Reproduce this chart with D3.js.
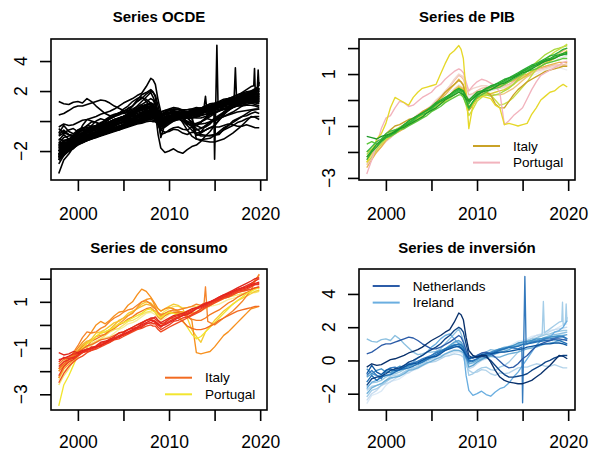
<!DOCTYPE html>
<html>
<head>
<meta charset="utf-8">
<script src="https://cdn.jsdelivr.net/npm/d3@7"></script>
<style>
  body { margin: 0; background: #fff; }
  svg { display: block; }
  text { font-family: "Liberation Sans", Arial, Helvetica, sans-serif; fill: #000; }
</style>
</head>
<body>
<svg id="chart" width="592" height="453"></svg>
<script>
// ---- time axis shared by every series ----
const YEARS = [1997.9, 1999, 2000, 2001, 2002, 2003, 2004, 2005, 2006, 2007, 2008, 2008.5,
               2009.1, 2010, 2011, 2012, 2013, 2014, 2015, 2016, 2017, 2018, 2019, 2019.9];
// in-between readings (one between each pair of YEARS)
const MID_YEARS = [1998.45, 1999.5, 2000.5, 2001.5, 2002.5, 2003.5, 2004.5, 2005.5, 2006.5, 2007.5,
                   2008.25, 2008.8, 2009.55, 2010.5, 2011.5, 2012.5, 2013.5, 2014.5, 2015.5,
                   2016.5, 2017.5, 2018.5, 2019.45];
const X_TICKS = [2000, 2005, 2010, 2015, 2020];
const X_LABELS = [2000, 2010, 2020];

// ---- GDP (PIB) standardized series ----
const PIB_NAMES = ["pib_w1","pib_w2","pib_p1","pib_p2","pib_t1","pib_t2","pib_y2","pib_l1","pib_l2",
                   "Italy","Portugal","pib_y1","pib_g4","pib_g3","pib_g2","pib_g5","pib_g1"];
const PIB_COLORS = ["#EEEEEE","#E4E4E4","#EFBFA6","#F2D4CC","#E8B34C","#EEC27C","#DCCB30","#A8D83E","#C8DE44",
                    "#C9A227","#F2B3BD","#E6D82A","#5CC63C","#3EBB46","#2AAE34","#24A42D","#1E9A27"];
const PIB_VALUES = [
  [-2.0,-1.75,-1.45,-1.25,-1.0,-0.75,-0.5,-0.25,0.05,0.3,0.6,0.5,0.1,0.35,0.45,0.45,0.45,0.6,0.8,0.95,1.1,1.2,1.25,1.15],
  [-2.45,-1.95,-1.55,-1.3,-1.05,-0.85,-0.6,-0.35,-0.1,0.15,0.45,0.35,-0.05,0.2,0.35,0.4,0.5,0.7,0.9,1.1,1.3,1.45,1.6,1.7],
  [-2.5,-2.0,-1.6,-1.3,-1.05,-0.8,-0.55,-0.25,0.1,0.5,0.95,0.8,0.2,0.35,0.5,0.5,0.55,0.7,0.9,1.05,1.2,1.3,1.35,1.4],
  [-2.2,-1.9,-1.45,-1.2,-0.95,-0.7,-0.45,-0.2,0.15,0.55,1.0,0.9,0.35,0.5,0.55,0.45,0.5,0.65,0.85,1.0,1.15,1.25,1.3,1.35],
  [-2.6,-2.0,-1.55,-1.3,-1.1,-0.85,-0.6,-0.3,0.05,0.4,0.8,0.6,-0.1,0.3,0.4,0.5,0.6,0.75,0.95,1.1,1.25,1.35,1.45,1.45],
  [-2.3,-1.9,-1.5,-1.25,-1.05,-0.85,-0.65,-0.4,-0.1,0.2,0.55,0.45,0.0,0.2,0.3,0.2,0.25,0.45,0.75,1.0,1.3,1.55,1.8,2.0],
  [-2.0,-1.7,-1.5,-1.25,-1.05,-0.8,-0.6,-0.35,-0.1,0.2,0.5,0.4,-0.25,0.05,0.2,0.3,0.4,0.6,0.85,1.1,1.3,1.5,1.7,1.9],
  [-2.1,-1.75,-1.4,-1.15,-0.95,-0.8,-0.55,-0.3,-0.05,0.2,0.4,0.3,-0.35,0.1,0.2,0.2,0.35,0.6,0.95,1.3,1.6,1.85,2.0,2.1],
  [-2.4,-1.9,-1.5,-1.2,-1.0,-0.75,-0.6,-0.35,-0.15,0.05,0.3,0.15,-0.6,-0.05,0.25,0.0,-0.15,0.1,0.5,0.95,1.4,1.7,1.95,2.15],
  [-2.2,-1.8,-1.3,-1.0,-0.85,-0.7,-0.45,-0.25,0.1,0.45,0.75,0.55,-0.4,0.05,0.3,-0.15,-0.3,0.2,0.55,0.8,1.0,1.15,1.25,1.3],
  [-2.85,-1.7,-0.7,-0.3,-0.1,-0.2,0.1,0.3,0.6,0.95,1.2,1.05,0.35,0.7,0.75,0.55,-0.95,-0.6,-0.3,0.4,0.95,1.15,1.35,1.5],
  [-2.4,-1.5,-0.9,0.1,-0.1,0.1,0.45,0.55,1.0,1.75,2.1,1.6,-1.1,0.1,0.1,-0.2,-0.95,-0.95,-0.95,-0.55,0.0,0.3,0.5,0.5],
  [-1.7,-1.7,-1.45,-1.3,-1.1,-0.9,-0.7,-0.45,-0.25,0.0,0.2,0.1,-0.35,0.1,0.3,0.45,0.6,0.8,1.0,1.15,1.3,1.45,1.55,1.6],
  [-2.0,-1.6,-1.3,-1.15,-0.95,-0.8,-0.55,-0.35,-0.05,0.15,0.35,0.2,-0.15,0.25,0.4,0.55,0.7,0.9,1.1,1.25,1.45,1.55,1.7,1.75],
  [-2.3,-1.8,-1.45,-1.25,-1.0,-0.75,-0.5,-0.25,0.0,0.2,0.4,0.3,-0.3,0.15,0.45,0.6,0.8,0.95,1.15,1.35,1.5,1.7,1.85,2.0],
  [-2.2,-1.7,-1.4,-1.25,-0.95,-0.7,-0.5,-0.3,-0.05,0.2,0.45,0.35,0.0,0.3,0.45,0.6,0.75,0.9,1.1,1.3,1.45,1.6,1.75,1.85],
  [-1.4,-1.5,-1.35,-1.2,-1.05,-0.85,-0.65,-0.4,-0.15,0.1,0.3,0.2,-0.05,0.2,0.35,0.5,0.65,0.85,1.05,1.2,1.4,1.55,1.7,1.8]
];
const PIB_MID = [
  [-1.85,-1.6,-1.3,-1.15,-0.85,-0.65,-0.35,-0.1,0.2,0.45,0.55,0.3,0.25,0.45,0.4,0.5,0.5,0.7,0.9,1.0,1.15,1.25,1.2],
  [-2.2,-1.7,-1.45,-1.15,-0.95,-0.7,-0.5,-0.2,0.0,0.3,0.4,0.15,0.05,0.3,0.35,0.45,0.6,0.8,1.0,1.2,1.4,1.5,1.65],
  [-2.2,-1.8,-1.45,-1.2,-0.9,-0.7,-0.4,-0.05,0.3,0.75,0.9,0.5,0.25,0.45,0.5,0.5,0.6,0.8,0.95,1.15,1.25,1.35,1.35],
  [-2.05,-1.65,-1.35,-1.05,-0.85,-0.55,-0.35,0.0,0.35,0.8,0.95,0.6,0.45,0.55,0.5,0.45,0.55,0.75,0.9,1.1,1.2,1.3,1.3],
  [-2.3,-1.8,-1.4,-1.2,-0.95,-0.75,-0.45,-0.1,0.2,0.6,0.7,0.2,0.15,0.35,0.45,0.55,0.7,0.85,1.0,1.2,1.3,1.4,1.45],
  [-2.1,-1.7,-1.4,-1.15,-0.95,-0.75,-0.5,-0.25,0.05,0.4,0.5,0.2,0.1,0.25,0.25,0.2,0.35,0.6,0.9,1.15,1.45,1.7,1.9],
  [-1.9,-1.55,-1.4,-1.15,-0.9,-0.7,-0.45,-0.25,0.05,0.35,0.45,0.1,-0.1,0.15,0.25,0.35,0.5,0.75,0.95,1.2,1.4,1.6,1.8],
  [-1.9,-1.6,-1.25,-1.05,-0.9,-0.65,-0.45,-0.15,0.05,0.3,0.35,0.0,-0.1,0.15,0.15,0.25,0.45,0.8,1.1,1.45,1.75,1.95,2.05],
  [-2.2,-1.7,-1.35,-1.1,-0.85,-0.7,-0.45,-0.25,-0.05,0.2,0.25,-0.2,-0.35,0.1,0.2,-0.2,-0.05,0.3,0.7,1.2,1.55,1.85,2.05],
  [-2.0,-1.55,-1.15,-0.95,-0.75,-0.6,-0.35,-0.1,0.3,0.6,0.7,0.1,-0.2,0.2,0.2,-0.3,-0.05,0.4,0.7,0.9,1.1,1.2,1.3],
  [-2.3,-1.1,-0.6,-0.05,-0.25,-0.05,0.2,0.5,0.8,1.1,1.15,0.7,0.55,0.8,0.65,0.3,-0.8,-0.45,0.05,0.7,1.05,1.25,1.45],
  [-2.0,-1.3,-0.3,0.0,-0.2,0.3,0.5,0.6,1.4,1.9,1.95,0.3,-0.2,0.15,0.05,-0.3,-0.9,-1.0,-0.9,-0.3,0.15,0.35,0.6],
  [-1.6,-1.6,-1.4,-1.15,-1.0,-0.8,-0.6,-0.35,-0.1,0.1,0.2,-0.15,-0.1,0.2,0.4,0.5,0.7,0.9,1.1,1.2,1.4,1.5,1.6],
  [-1.8,-1.5,-1.2,-1.1,-0.85,-0.65,-0.5,-0.2,0.05,0.25,0.3,0.0,0.1,0.3,0.5,0.6,0.8,1.0,1.15,1.35,1.5,1.65,1.75],
  [-2.0,-1.6,-1.35,-1.1,-0.9,-0.6,-0.4,-0.1,0.1,0.3,0.35,0.0,-0.05,0.3,0.5,0.7,0.85,1.05,1.25,1.4,1.6,1.75,1.95],
  [-1.95,-1.55,-1.3,-1.1,-0.8,-0.6,-0.4,-0.15,0.05,0.35,0.4,0.15,0.15,0.35,0.55,0.65,0.85,1.0,1.2,1.35,1.55,1.7,1.8],
  [-1.45,-1.4,-1.3,-1.1,-0.95,-0.75,-0.5,-0.3,0.0,0.2,0.25,0.05,0.05,0.3,0.4,0.6,0.75,0.95,1.1,1.3,1.5,1.6,1.75]
];

// ---- consumption series ----
const CON_NAMES = ["con_y4","con_y3","con_y2","con_y1","con_o4","con_o1","con_o2","con_o3",
                   "Portugal","Italy","con_r5","con_r3","con_r6","con_r2","con_r4","con_r1"];
const CON_COLORS = ["#F8EE9C","#F6E466","#F5CC36","#F6B72E","#F89A2A","#F7901E","#F5842A","#F47A22",
                    "#F2E52F","#F26B21","#F04A22","#EC3D20","#E83020","#EA3320","#E0281C","#E5241D"];
const CON_VALUES = [
  [-2.4,-1.8,-1.3,-0.95,-0.75,-0.55,-0.35,-0.1,0.1,0.35,0.55,0.45,0.2,0.45,0.6,0.6,0.6,0.7,0.85,1.0,1.15,1.3,1.4,1.5],
  [-2.6,-1.9,-1.35,-1.0,-0.7,-0.45,-0.2,0.0,0.2,0.45,0.6,0.6,0.45,0.7,0.8,0.75,0.8,0.9,1.0,1.15,1.25,1.35,1.4,1.45],
  [-2.0,-1.5,-1.15,-0.75,-0.35,-0.2,0.1,0.3,0.6,0.9,0.95,0.8,0.6,0.8,0.85,0.3,-0.5,-0.3,0.2,0.6,0.9,1.15,1.35,1.5],
  [-2.3,-1.6,-1.1,-0.7,-0.5,-0.3,0.0,0.3,0.55,0.8,0.85,0.7,0.35,0.55,0.5,0.45,0.55,0.75,0.95,1.15,1.3,1.45,1.55,1.6],
  [-2.3,-1.7,-1.2,-0.95,-0.5,-0.4,-0.1,0.2,0.5,1.0,1.15,0.75,0.4,0.55,0.6,0.5,0.55,0.75,0.95,1.15,1.35,1.55,1.7,2.15],
  [-1.9,-1.4,-1.0,-0.55,0.0,0.05,0.4,0.6,1.0,1.55,1.2,0.9,0.6,0.75,0.6,0.4,-1.2,-1.2,-0.95,-0.45,-0.1,0.3,0.7,0.8],
  [-2.0,-1.5,-0.9,-0.3,-0.3,-0.05,0.3,0.55,0.7,1.0,0.9,0.7,0.45,0.6,0.65,0.75,0.9,1.65,0.0,0.3,0.6,1.0,1.5,2.2],
  [-1.7,-1.4,-1.15,-0.8,-0.6,-0.4,-0.15,0.1,0.35,0.6,0.75,0.55,0.25,0.5,0.55,0.35,0.2,0.3,0.55,0.8,1.05,1.3,1.5,1.65],
  [-3.5,-2.2,-1.3,-0.8,-0.5,-0.3,-0.1,0.1,0.3,0.5,0.7,0.55,0.3,0.55,0.4,-0.1,-0.6,-0.3,0.1,0.5,0.9,1.2,1.45,1.6],
  [-1.9,-1.5,-1.2,-0.9,-0.75,-0.6,-0.45,-0.3,-0.1,0.1,0.25,0.15,-0.05,0.25,0.3,-0.05,-0.2,-0.15,0.05,0.3,0.5,0.65,0.75,0.8],
  [-2.5,-1.8,-1.45,-1.2,-1.05,-0.85,-0.65,-0.5,-0.3,-0.15,0.0,-0.05,-0.3,-0.1,0.1,0.3,0.5,0.75,0.95,1.15,1.3,1.45,1.55,1.65],
  [-2.2,-1.6,-1.35,-1.15,-1.0,-0.8,-0.6,-0.45,-0.25,-0.05,0.1,0.05,-0.2,0.0,0.2,0.35,0.55,0.8,1.0,1.2,1.35,1.5,1.65,1.8],
  [-1.6,-1.45,-1.3,-1.1,-0.95,-0.75,-0.6,-0.4,-0.25,-0.1,0.1,0.1,-0.1,0.15,0.35,0.5,0.7,0.85,1.05,1.2,1.4,1.55,1.7,1.75],
  [-1.8,-1.5,-1.3,-1.1,-0.95,-0.75,-0.55,-0.35,-0.15,0.05,0.25,0.25,0.05,0.25,0.4,0.55,0.75,0.9,1.05,1.25,1.45,1.6,1.8,2.0],
  [-1.2,-1.25,-1.2,-1.05,-0.9,-0.7,-0.5,-0.3,-0.1,0.1,0.3,0.35,0.1,0.3,0.45,0.6,0.75,0.9,1.1,1.3,1.5,1.7,1.9,2.05],
  [-1.5,-1.35,-1.25,-1.05,-0.95,-0.8,-0.6,-0.4,-0.2,0.0,0.2,0.15,-0.05,0.1,0.3,0.45,0.7,0.95,1.1,1.3,1.45,1.6,1.75,1.85]
];
const CON_MID = [
  [-2.0,-1.6,-1.05,-0.9,-0.6,-0.5,-0.2,0.05,0.2,0.5,0.5,0.3,0.3,0.55,0.55,0.65,0.6,0.8,0.9,1.1,1.2,1.35,1.45],
  [-2.2,-1.55,-1.2,-0.8,-0.6,-0.3,-0.15,0.15,0.3,0.55,0.65,0.5,0.6,0.8,0.75,0.8,0.85,0.95,1.1,1.2,1.3,1.4,1.4],
  [-1.7,-1.35,-0.9,-0.6,-0.3,-0.05,0.15,0.5,0.7,1.0,0.85,0.7,0.7,0.9,0.7,-0.2,-0.75,-0.05,0.4,0.75,1.05,1.25,1.45],
  [-1.8,-1.4,-0.85,-0.65,-0.35,-0.2,0.2,0.4,0.7,0.9,0.75,0.5,0.45,0.5,0.45,0.5,0.65,0.85,1.05,1.2,1.4,1.5,1.6],
  [-1.9,-1.5,-1.0,-0.7,-0.45,-0.2,0.05,0.4,0.75,1.1,1.0,0.5,0.5,0.65,0.55,0.5,0.65,0.85,1.05,1.25,1.45,1.6,1.95],
  [-1.6,-1.25,-0.75,-0.3,0.15,0.2,0.55,0.85,1.3,1.45,1.05,0.7,0.7,0.7,0.55,0.2,-1.25,-1.15,-0.7,-0.3,0.1,0.5,0.75],
  [-1.8,-1.2,-0.55,-0.35,-0.15,0.15,0.4,0.65,0.85,1.05,0.8,0.55,0.5,0.65,0.7,0.8,0.85,0.1,0.15,0.45,0.8,1.25,1.9],
  [-1.5,-1.3,-0.95,-0.7,-0.5,-0.25,0.0,0.25,0.5,0.7,0.65,0.35,0.4,0.55,0.45,0.25,0.2,0.45,0.65,0.95,1.2,1.4,1.6],
  [-2.6,-1.75,-1.0,-0.7,-0.35,-0.2,0.05,0.2,0.4,0.65,0.6,0.4,0.45,0.5,0.2,-0.4,-0.5,-0.1,0.3,0.7,1.05,1.35,1.55],
  [-1.7,-1.35,-1.05,-0.85,-0.65,-0.55,-0.35,-0.2,0.0,0.2,0.2,0.05,0.1,0.3,0.15,-0.15,-0.2,-0.05,0.2,0.4,0.6,0.7,0.8],
  [-2.1,-1.6,-1.35,-1.1,-0.95,-0.75,-0.6,-0.4,-0.2,-0.05,-0.05,-0.2,-0.2,0.0,0.2,0.4,0.6,0.85,1.05,1.2,1.4,1.5,1.6],
  [-1.8,-1.5,-1.2,-1.1,-0.85,-0.75,-0.5,-0.35,-0.15,0.05,0.05,-0.1,-0.1,0.15,0.3,0.45,0.7,0.9,1.1,1.25,1.45,1.55,1.75],
  [-1.4,-1.4,-1.15,-1.05,-0.8,-0.7,-0.45,-0.35,-0.15,0.05,0.15,0.0,0.05,0.25,0.4,0.6,0.75,0.95,1.1,1.3,1.5,1.6,1.75],
  [-1.6,-1.45,-1.2,-0.95,-0.9,-0.6,-0.5,-0.2,-0.1,0.2,0.3,0.15,0.1,0.35,0.45,0.65,0.8,1.0,1.15,1.35,1.5,1.7,1.9],
  [-1.3,-1.15,-1.1,-1.0,-0.75,-0.65,-0.35,-0.2,0.0,0.2,0.3,0.2,0.2,0.4,0.5,0.7,0.8,1.0,1.2,1.4,1.6,1.8,2.0],
  [-1.45,-1.25,-1.15,-1.0,-0.9,-0.65,-0.55,-0.3,-0.1,0.1,0.2,0.05,0.0,0.2,0.4,0.55,0.85,1.0,1.2,1.35,1.55,1.65,1.8]
];
// short-lived movements between the regular readings: [series, year, value]
const CON_EXTRA = [["con_o2",2013.85,0.95],["con_o2",2014.25,0.15]];

// ---- investment series ----
const INV_NAMES = ["inv_b2","inv_b1","inv_b9","inv_s2","inv_b3","inv_x3","Ireland","inv_b8","inv_b4",
                   "inv_b5","inv_s1","inv_b6","Netherlands","inv_b7","inv_x2","inv_x1"];
const INV_COLORS = ["#DCEAF6","#C6DBEF","#B3D3EA","#A4CDE8","#9CC9E1","#8CC0E0","#6AAEE0","#6FB0D8","#5AA2D0",
                    "#4292C6","#3479BD","#2171B5","#2C5CA8","#0B559F","#0D4385","#08306B"];
const INV_VALUES = [
  [-2.6,-2.0,-1.5,-1.2,-0.9,-0.6,-0.35,-0.1,0.15,0.4,0.5,0.3,-0.3,0.0,0.3,0.55,0.75,1.0,1.2,1.45,1.6,1.8,2.0,2.2],
  [-2.4,-1.8,-1.4,-1.1,-0.8,-0.55,-0.3,0.0,0.3,0.55,0.6,0.35,-0.5,-0.2,0.1,0.4,0.6,0.85,1.1,1.35,1.55,1.75,1.9,2.0],
  [-1.8,-1.5,-1.2,-0.9,-0.7,-0.5,-0.3,-0.1,0.1,0.3,0.35,0.2,-0.6,-0.7,-0.6,-0.9,-0.8,-0.6,-0.4,-0.3,-0.25,-0.35,-0.35,-0.45],
  [-2.2,-1.7,-1.3,-1.0,-0.7,-0.45,-0.2,0.1,0.5,0.9,1.1,0.8,-0.9,-0.6,-0.4,-0.6,-0.3,0.2,0.8,1.2,1.5,1.9,2.3,2.6],
  [-1.6,-1.3,-1.0,-0.8,-0.55,-0.3,-0.05,0.2,0.45,0.75,0.9,0.6,-0.2,0.0,0.25,0.45,0.65,0.9,1.1,1.3,1.45,1.6,1.75,1.8],
  [1.3,1.1,1.3,1.5,1.0,0.5,0.4,0.5,0.7,1.3,1.9,1.2,0.0,0.3,0.5,0.6,0.8,0.9,1.0,1.1,1.3,1.5,1.6,1.7],
  [-1.7,-1.2,-0.9,-0.6,-0.4,-0.1,0.3,0.8,1.3,1.6,1.0,0.6,-1.8,-2.0,-2.05,-1.9,-1.6,-1.0,-0.3,0.5,1.2,1.4,1.8,2.4],
  [-2.0,-1.5,-1.2,-1.0,-0.8,-0.55,-0.3,-0.05,0.2,0.5,0.6,0.45,-0.2,0.0,0.15,0.2,0.3,0.45,0.6,0.75,0.9,1.05,1.2,1.3],
  [-1.0,-0.9,-0.7,-0.65,-0.5,-0.3,-0.1,0.15,0.45,0.9,1.2,0.9,-0.4,-0.1,0.2,0.4,0.55,0.8,1.0,1.15,1.3,1.4,1.5,1.55],
  [-0.5,-0.6,-0.7,-0.5,-0.4,-0.2,0.0,0.3,0.6,0.85,0.95,0.7,0.1,0.2,0.4,0.6,0.75,0.9,1.1,1.2,1.3,1.4,1.45,1.3],
  [-0.9,-0.9,-0.6,-0.4,-0.3,-0.15,0.1,0.3,0.55,0.75,0.8,0.55,-0.1,0.1,0.4,0.55,0.7,0.75,-2.55,1.1,1.2,1.3,1.4,1.3],
  [-1.3,-1.2,-0.9,-0.7,-0.5,-0.35,-0.1,0.2,0.5,0.8,1.0,0.8,0.0,0.1,0.3,0.5,0.7,0.8,0.95,1.05,1.15,1.2,1.2,1.0],
  [0.4,0.7,1.0,1.1,1.3,1.35,1.0,0.7,0.8,1.1,1.5,1.1,0.2,0.3,0.5,0.2,-0.3,-0.4,0.1,0.6,1.0,1.2,1.3,1.2],
  [-0.8,-0.7,-0.6,-0.6,-0.4,-0.2,0.0,0.2,0.4,0.7,0.85,0.6,0.1,0.25,0.4,0.45,0.5,0.6,0.7,0.85,0.95,1.0,1.05,0.9],
  [-1.5,-1.0,-0.8,-0.5,-0.3,0.0,0.3,0.65,1.0,1.5,2.0,1.7,0.3,0.2,0.2,-0.3,-0.85,-1.0,-0.9,-0.6,-0.3,0.0,0.25,0.3],
  [-0.4,-0.3,-0.1,0.1,0.3,0.55,0.8,1.2,1.5,1.85,2.85,2.45,0.6,0.2,0.3,-0.6,-1.2,-1.35,-1.4,-1.2,-0.8,-0.3,0.3,0.1]
];
const INV_MID = [
  [-2.1,-1.85,-1.25,-1.1,-0.7,-0.5,-0.15,0.05,0.35,0.5,0.45,0.0,-0.25,0.2,0.35,0.7,0.85,1.15,1.3,1.5,1.75,1.85,2.15],
  [-2.0,-1.5,-1.3,-0.9,-0.75,-0.35,-0.2,0.2,0.35,0.65,0.5,-0.1,-0.4,0.0,0.3,0.45,0.75,1.0,1.2,1.5,1.6,1.85,1.95],
  [-1.55,-1.4,-0.95,-0.85,-0.55,-0.45,-0.15,-0.05,0.25,0.4,0.3,-0.3,-0.75,-0.55,-0.8,-0.75,-0.75,-0.45,-0.4,-0.2,-0.35,-0.25,-0.45],
  [-1.8,-1.5,-1.1,-0.9,-0.55,-0.35,-0.05,0.3,0.65,1.05,1.0,0.0,-0.8,-0.45,-0.55,-0.4,-0.1,0.5,1.0,1.35,1.7,2.1,2.2],
  [-1.35,-1.2,-0.85,-0.7,-0.45,-0.1,0.1,0.3,0.65,0.8,0.8,0.2,-0.1,0.15,0.3,0.6,0.75,1.0,1.2,1.35,1.55,1.7,1.8],
  [1.15,1.25,1.2,1.3,0.75,0.35,0.5,0.55,1.0,1.6,1.6,0.6,0.2,0.4,0.65,0.7,0.85,0.95,1.1,1.2,1.4,1.55,1.65],
  [-1.3,-1.0,-0.85,-0.45,-0.3,0.15,0.5,1.0,1.5,1.3,0.9,-0.9,-2.1,-1.85,-2.15,-1.7,-1.35,-0.7,0.1,0.9,1.3,1.7,2.0],
  [-1.65,-1.4,-1.05,-0.95,-0.6,-0.45,-0.15,0.1,0.4,0.6,0.55,0.1,-0.15,0.1,0.25,0.2,0.4,0.5,0.7,0.8,1.0,1.1,1.25],
  [-0.8,-0.95,-0.6,-0.6,-0.35,-0.25,0.05,0.25,0.7,1.1,1.1,0.2,-0.3,0.05,0.3,0.5,0.65,0.9,1.1,1.2,1.35,1.45,1.5],
  [-0.8,-0.5,-0.75,-0.35,-0.35,-0.05,0.1,0.5,0.7,0.95,0.85,0.35,0.2,0.3,0.5,0.7,0.8,1.05,1.15,1.3,1.35,1.45,1.4],
  [-0.6,-1.1,-0.45,-0.5,-0.2,-0.05,0.2,0.45,0.6,0.9,0.7,0.2,0.0,0.3,0.45,0.65,0.8,0.7,1.0,1.15,1.3,1.35,1.45],
  [-0.9,-1.0,-0.85,-0.55,-0.45,-0.2,0.05,0.35,0.7,0.9,0.95,0.4,-0.05,0.25,0.35,0.6,0.8,0.85,1.0,1.1,1.2,1.25,1.1],
  [0.5,0.9,1.0,1.2,1.4,1.2,0.85,0.7,0.95,1.3,1.4,0.6,0.15,0.45,0.4,-0.05,-0.45,-0.2,0.3,0.85,1.1,1.3,1.25],
  [-0.3,-0.85,-0.5,-0.55,-0.25,-0.15,0.15,0.25,0.6,0.8,0.75,0.3,0.2,0.35,0.4,0.5,0.55,0.65,0.8,0.9,1.0,1.05,1.0],
  [-1.1,-0.95,-0.6,-0.45,-0.1,0.15,0.5,0.8,1.3,1.8,1.9,1.0,0.15,0.25,0.0,-0.6,-1.0,-0.95,-0.8,-0.45,-0.1,0.15,0.3],
  [-0.2,-0.25,0.05,0.2,0.45,0.65,1.0,1.35,1.7,2.3,2.75,1.4,0.3,0.3,-0.1,-1.0,-1.3,-1.4,-1.3,-1.0,-0.55,0.0,0.25]
];
const INV_EXTRA = [
  ["inv_s1",2014.92,0.8],["inv_s1",2015.12,0.9],["inv_s1",2015.25,5.05],["inv_s1",2015.38,1.0],
  ["inv_s2",2017.15,1.6],["inv_s2",2017.28,3.55],["inv_s2",2017.4,1.65],
  ["inv_s2",2019.3,2.35],["inv_s2",2019.38,3.5],["inv_s2",2019.5,2.1],
  ["inv_s2",2019.7,2.3],["inv_s2",2019.78,3.4],["inv_s2",2019.86,2.4]
];

// axis limits (data range plus 4% on each side)
const X_LIM = [1997.05, 2020.75];
const YLIM_OCDE = [-3.93, 5.47];
const YLIM_PIB = [-3.08, 2.35];
const YLIM_CON = [-3.68, 2.42];
const YLIM_INV = [-2.98, 5.5];

// ---- build series objects ----
function buildSeries(names, colors, values, mids, extra) {
  return names.map((name, i) => {
    const pts = YEARS.map((t, j) => [t, values[i][j]]);
    MID_YEARS.forEach((t, j) => pts.push([t, mids[i][j]]));
    extra.filter(e => e[0] === name).forEach(e => pts.push([e[1], e[2]]));
    pts.sort((a, b) => a[0] - b[0]);
    return { name, color: colors[i], points: pts };
  });
}
const pib = buildSeries(PIB_NAMES, PIB_COLORS, PIB_VALUES, PIB_MID, []);
const con = buildSeries(CON_NAMES, CON_COLORS, CON_VALUES, CON_MID, CON_EXTRA);
const inv = buildSeries(INV_NAMES, INV_COLORS, INV_VALUES, INV_MID, INV_EXTRA);
const all = [].concat(pib, con, inv).map(s => Object.assign({}, s, { color: "#000" }));

const svg = d3.select("#chart");
const fmt = d3.format("d");

const panels = [
  { title: "Series OCDE", x0: 51, y0: 39, x1: 267, y1: 180, ylim: YLIM_OCDE, lw: 1.6,
    yTicks: [-2, 0, 2, 4], yLabels: [-2, 2, 4], series: all, legend: null },
  { title: "Series de PIB", x0: 359, y0: 39, x1: 575, y1: 180, ylim: YLIM_PIB, lw: 1.35,
    yTicks: [-3, -2, -1, 0, 1, 2], yLabels: [-3, -1, 1], series: pib,
    legend: { x: 473, y: 146, items: ["Italy", "Portugal"] } },
  { title: "Series de consumo", x0: 51, y0: 269, x1: 267, y1: 410, ylim: YLIM_CON, lw: 1.35,
    yTicks: [-3, -2, -1, 0, 1, 2], yLabels: [-3, -1, 1], series: con,
    legend: { x: 165, y: 377.7, items: ["Italy", "Portugal"] } },
  { title: "Series de inversión", x0: 359, y0: 269, x1: 575, y1: 410, ylim: YLIM_INV, lw: 1.35,
    yTicks: [-2, 0, 2, 4], yLabels: [-2, 0, 2, 4], series: inv,
    legend: { x: 372.7, y: 286, items: ["Netherlands", "Ireland"] } }
];

panels.forEach((p, k) => {
  const x = d3.scaleLinear().domain(X_LIM).range([p.x0, p.x1]);
  const y = d3.scaleLinear().domain(p.ylim).range([p.y1, p.y0]);
  const g = svg.append("g");

  const clipId = "clip" + k;
  svg.append("clipPath").attr("id", clipId)
    .append("rect").attr("x", p.x0).attr("y", p.y0)
    .attr("width", p.x1 - p.x0).attr("height", p.y1 - p.y0);

  const line = d3.line().x(d => x(d[0])).y(d => y(d[1]));
  g.append("g").attr("clip-path", `url(#${clipId})`)
    .selectAll("path").data(p.series).join("path")
    .attr("d", d => line(d.points))
    .attr("fill", "none")
    .attr("stroke", d => d.color)
    .attr("stroke-width", p.lw)
    .attr("stroke-linejoin", "round");

  // box
  g.append("rect").attr("x", p.x0).attr("y", p.y0)
    .attr("width", p.x1 - p.x0).attr("height", p.y1 - p.y0)
    .attr("fill", "none").attr("stroke", "#000").attr("stroke-width", 1.6);

  // x axis ticks and labels
  const xa = g.append("g").attr("transform", `translate(0,${p.y1})`)
    .call(d3.axisBottom(x).tickValues(X_TICKS).tickSize(11).tickPadding(k < 2 ? 16.5 : 14.5)
      .tickFormat(d => X_LABELS.includes(d) ? fmt(d) : ""));
  xa.select(".domain").remove();
  xa.selectAll("line").attr("stroke", "#000").attr("stroke-width", 1.6);
  xa.selectAll("text").attr("font-size", 17.5).attr("font-family", null).attr("fill", "#000");

  // y axis ticks
  const ya = g.append("g").attr("transform", `translate(${p.x0},0)`)
    .call(d3.axisLeft(y).tickValues(p.yTicks).tickSize(11).tickFormat(""));
  ya.select(".domain").remove();
  ya.selectAll("line").attr("stroke", "#000").attr("stroke-width", 1.6);

  // rotated y labels
  g.selectAll(".ylab").data(p.yLabels).join("text")
    .attr("class", "ylab")
    .attr("transform", d => `translate(${p.x0 - 24.5},${y(d)}) rotate(-90)`)
    .attr("text-anchor", "middle")
    .attr("font-size", 17.5)
    .text(d => fmt(d));

  // title
  g.append("text")
    .attr("x", (p.x0 + p.x1) / 2)
    .attr("y", k < 2 ? 22 : 253)
    .attr("text-anchor", "middle")
    .attr("font-size", 15)
    .attr("font-weight", "bold")
    .text(p.title);

  // legend
  if (p.legend) {
    p.legend.items.forEach((name, i) => {
      const s = p.series.find(d => d.name === name);
      const ly = p.legend.y + i * 16.6;
      g.append("line")
        .attr("x1", p.legend.x).attr("x2", p.legend.x + 27)
        .attr("y1", ly).attr("y2", ly)
        .attr("stroke", s.color).attr("stroke-width", 2);
      g.append("text")
        .attr("x", p.legend.x + 40).attr("y", ly)
        .attr("dy", "0.35em")
        .attr("font-size", 13.5)
        .text(name);
    });
  }
});
</script>
</body>
</html>
